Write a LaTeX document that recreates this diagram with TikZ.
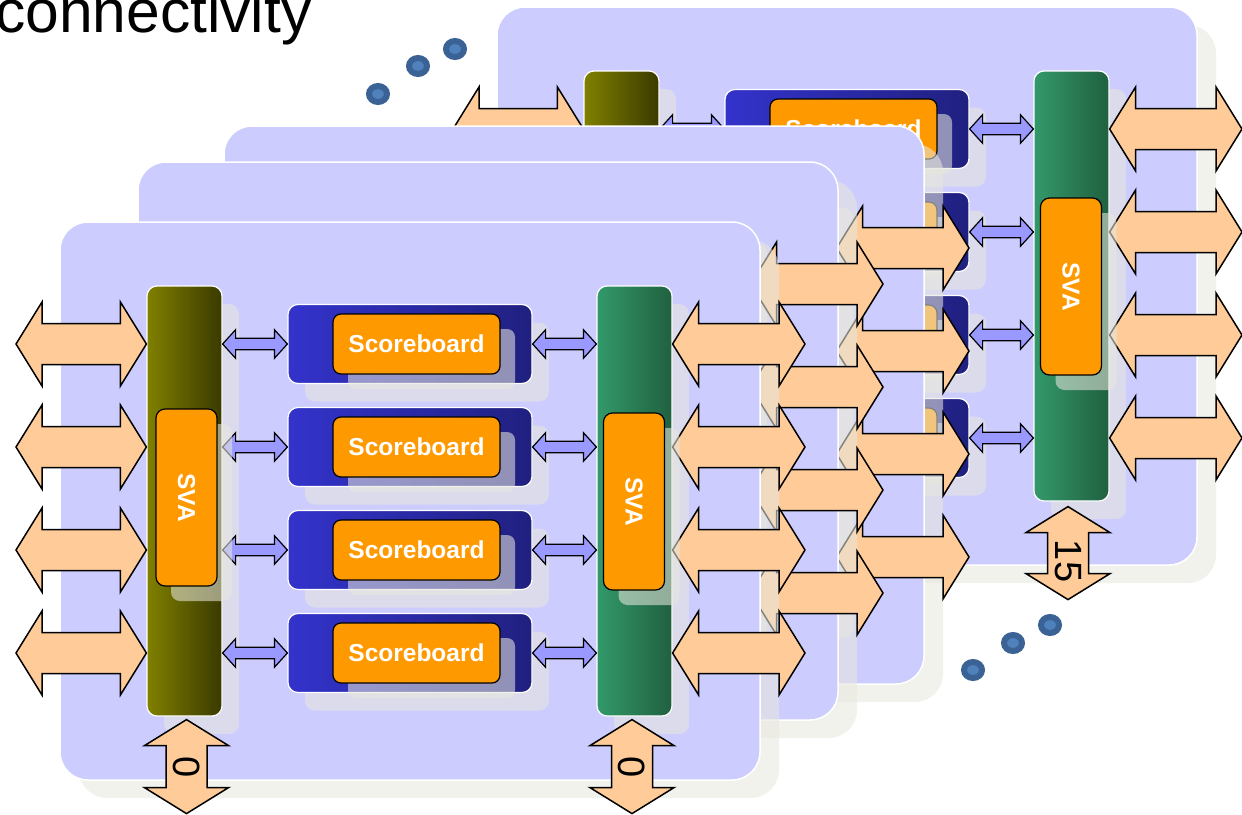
\documentclass[tikz,border=0pt]{standalone}
\usepackage{fontspec}
\setmainfont{Liberation Sans}
\usepackage{tikz}
\usetikzlibrary{positioning,calc,shadows}
\definecolor{panelc}{HTML}{CCCCFF}
\definecolor{arrowc}{HTML}{FFCC99}
\definecolor{linkc}{HTML}{9999FF}
\definecolor{svac}{HTML}{FF9900}
\definecolor{olivea}{HTML}{808000}
\definecolor{oliveb}{HTML}{3A3A00}
\definecolor{greena}{HTML}{33996A}
\definecolor{greenb}{HTML}{206040}
\definecolor{sba}{HTML}{3333CC}
\definecolor{sbb}{HTML}{202080}
\definecolor{shadowc}{HTML}{E8E8DE}
\definecolor{beadc}{HTML}{4F81BD}
\definecolor{beadd}{HTML}{3A6294}

\begin{document}
\begin{tikzpicture}[x=1pt,y=-1pt,
    every node/.style={inner sep=0pt},
    dbl/.style n args={3}{to path={
        ($(\tikztostart)!#1!(\tikztotarget)$) coordinate (dA)
        ($(\tikztotarget)!#1!(\tikztostart)$) coordinate (dB)
        (\tikztostart) -- ($(dA)!#3!90:(\tikztotarget)$) -- ($(dA)!#2!90:(\tikztotarget)$)
        -- ($(dB)!#2!-90:(\tikztostart)$) -- ($(dB)!#3!-90:(\tikztostart)$)
        -- (\tikztotarget) -- ($(dB)!#3!90:(\tikztostart)$) -- ($(dB)!#2!90:(\tikztostart)$)
        -- ($(dA)!#2!-90:(\tikztotarget)$) -- ($(dA)!#3!-90:(\tikztotarget)$) -- cycle}},
    fat/.style={draw=black,fill=arrowc,line width=1.5pt,dbl={26pt}{20.5pt}{42pt}},
    thin/.style={draw=black,fill=linkc,line width=1.2pt,dbl={13pt}{5.7pt}{14.3pt}},
    soft/.style={drop shadow={shadow xshift=17pt,shadow yshift=-18pt,fill=shadowc,opacity=.57}},
    softer/.style={drop shadow={shadow xshift=15pt,shadow yshift=-15pt,fill=shadowc,opacity=.57}},
    card/.style={minimum width=700pt,minimum height=558pt,rounded corners=28pt,fill=panelc,draw=white,line width=1.5pt,
        drop shadow={shadow xshift=19pt,shadow yshift=-18pt,fill=shadowc,opacity=.57}},
    bus/.style={minimum width=75pt,minimum height=430pt,rounded corners=10pt,draw=white,line width=1.2pt,soft},
    board/.style={minimum width=244pt,minimum height=79pt,rounded corners=10pt,draw=white,line width=1.2pt,left color=sba,right color=sbb,soft},
    score/.style={minimum width=167pt,minimum height=60pt,rounded corners=8pt,fill=svac,draw=black,line width=1.2pt,softer,
        text=white,font=\bfseries\fontsize{24.5}{24.5}\selectfont},
    chk/.style={minimum width=61pt,minimum height=177pt,rounded corners=9pt,fill=svac,draw=black,line width=1.2pt,softer},
    chklabel/.style={rotate=-90,text=white,font=\bfseries\fontsize{24.5}{24.5}\selectfont},
    tag/.style={rotate=-90,font=\fontsize{38}{38}\selectfont},
    bead/.style={fill=beadc,draw=beadd,line width=6pt}]
\useasboundingbox (0,0) rectangle (1242,814);
\foreach \n/\px/\py/\full in {3/497/7/1,2/224/126/0,1/138/162/0,0/60/222/1}{
    \node[card] (card\n) at (\px+350,\py+279) {};
    \node[bus,left color=greena,right color=greenb] (out\n) at (\px+574.5,\py+279) {};
    \ifnum\full=1
        \node[bus,left color=olivea,right color=oliveb] (in\n) at (\px+124.5,\py+279) {};
    \fi
    \foreach \r [evaluate=\r as \ry using \py+122+103*\r] in {0,...,3}{
        \coordinate (rt\n-\r) at (\px+745,\ry);
        \ifnum\full=1
            \coordinate (lt\n-\r) at (\px-44,\ry);
            \node[board] (sb\n-\r) at (\px+350,\ry) {};
            \node[score] (lbl\n-\r) at (\px+356.5,\ry) {Scoreboard};
            \draw[fat] (lt\n-\r) to (in\n.west |- lt\n-\r);
            \draw[thin] (in\n.east |- lt\n-\r) to (sb\n-\r.west);
            \draw[thin] (sb\n-\r.east) to (out\n.west |- lt\n-\r);
        \fi
        \draw[fat] (out\n.east |- rt\n-\r) to (rt\n-\r);
    }
    \ifnum\full=1
        \node[chk] (chkA\n) at (\px+126.5,\py+275.5) {};
        \node[chklabel] (chkAt\n) at (chkA\n) {SVA};
        \node[chk] (chkB\n) at (\px+574,\py+279.5) {};
        \node[chklabel] (chkBt\n) at (chkB\n) {SVA};
    \fi
}
\coordinate (up3) at ($(out3.south)+(-3.5,5)$);
\coordinate (dn3) at ($(out3.south)+(-3.5,98)$);
\draw[fat] (up3) to (dn3);
\node[tag] (ch15) at ($(up3)!.5!(dn3)+(0,8)$) {15};
\coordinate (upA0) at ($(in0.south)+(2,3)$);
\coordinate (dnA0) at ($(in0.south)+(2,97)$);
\draw[fat] (upA0) to (dnA0);
\node[tag] (chA0) at ($(upA0)!.5!(dnA0)$) {0};
\coordinate (upB0) at ($(out0.south)+(-2.5,3)$);
\coordinate (dnB0) at ($(out0.south)+(-2.5,97)$);
\draw[fat] (upB0) to (dnB0);
\node[tag] (chB0) at ($(upB0)!.5!(dnB0)$) {0};
\foreach \bx/\by in {378/94,418/66,455/49,973/670,1013/643,1050/625}
    \draw[bead] (\bx,\by) ellipse [x radius=9,y radius=8];
\node[anchor=base west,font=\fontsize{60.5}{60.5}\selectfont] (head) at (-5,32) {connectivity};
\end{tikzpicture}
\end{document}
